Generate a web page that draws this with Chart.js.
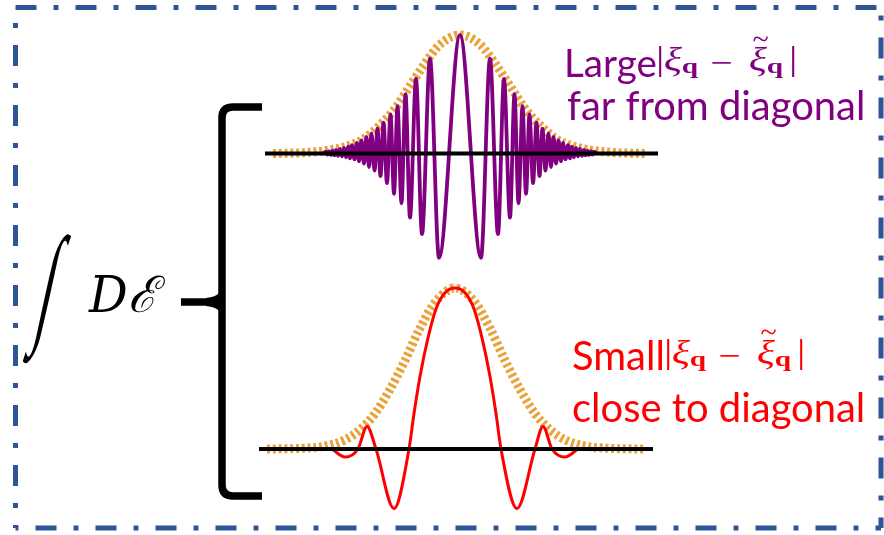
<!DOCTYPE html>
<html>
<head>
<meta charset="utf-8">
<script src="https://cdn.jsdelivr.net/npm/chart.js@4.4.1/dist/chart.umd.min.js"></script>
<style>
  html,body{margin:0;padding:0;background:#fff;}
  #wrap{width:884px;height:535px;position:relative;}
</style>
</head>
<body>
<div id="wrap"><canvas id="c"></canvas></div>
<script>
// ---------- DATA ----------
// position q, in units measured from the top packet's centre
const topCentre = 0;
const botCentre = -5;

// top panel: Gaussian envelope (normalised amplitude)
const topEnvQ = [-187,-150,-130,-110,-95,-80,-65,-50,-35,-20,0,20,35,50,65,80,95,110,130,150,187];
const topEnvA = [0,0.01,0.03,0.07,0.13,0.24,0.38,0.57,0.76,0.92,1,0.92,0.76,0.57,0.38,0.24,0.13,0.07,0.03,0.01,0];

// top panel: oscillation extrema, distance from centre and amplitude (one side, mirrored)
const topWaveD = [0,21,30,38,44,50,54.5,58.5,62.5,66,69.5,73,76.5,79.5,82.5,85.5,88.5,91,93.5,96,98.5,101,103,105.5,108,110,112,114,116,118,120,122,124,125.5,127.5,129,131,132.5,134,137];
const topWaveA = [1,-0.88,0.8,-0.68,0.63,-0.54,0.5,-0.42,0.4,-0.34,0.33,-0.25,0.26,-0.19,0.21,-0.145,0.17,-0.115,0.14,-0.085,0.11,-0.065,0.09,-0.05,0.07,-0.04,0.058,-0.032,0.048,-0.025,0.038,-0.02,0.03,-0.016,0.025,-0.013,0.02,-0.01,0.016,0];

// bottom panel: Gaussian envelope
const botEnvQ = [-188,-150,-130,-110,-95,-80,-65,-50,-35,-20,0,20,35,50,65,80,95,110,130,150,188];
const botEnvA = [0,0.005,0.018,0.057,0.12,0.22,0.37,0.55,0.75,0.91,1,0.91,0.75,0.55,0.37,0.22,0.12,0.057,0.018,0.005,0];

// bottom panel: slow oscillation
const botWaveQ = [-123,-110,-97,-88,-79,-61,-46,-41,-35,-27,-19,-10,0,10,19,27,35,41,46,62,80,88,97,110,123];
const botWaveA = [0,-0.05,0,0.14,0,-0.37,0,0.22,0.45,0.69,0.87,0.97,1,0.97,0.87,0.69,0.45,0.22,0,-0.37,0,0.14,0,-0.05,0];

// baselines (q extent)
const topAxisQ = [-195,198];
const botAxisQ = [-201,193];

// labels
const topLabel = ["Large", "far from diagonal"];
const botLabel = ["Small", "close to diagonal"];

// ---------- build datasets ----------
function pts(qs, as, c){ return qs.map((q,i)=>({x:q+c, y:as[i]})); }
function mirror(ds, as){
  const q=[], a=[];
  for(let i=ds.length-1;i>0;i--){ q.push(-ds[i]); a.push(as[i]); }
  for(let i=0;i<ds.length;i++){ q.push(ds[i]); a.push(as[i]); }
  return [q,a];
}
const [twQ, twA] = mirror(topWaveD, topWaveA);

const ORANGE = '#E9A33B';
const PURPLE = '#800080';
const RED = '#FF0000';

const frameAndText = {
  id:'frameAndText',
  afterDraw(chart){
    const ctx = chart.ctx;
    ctx.save();
    // dash-dot frame
    ctx.strokeStyle = '#2F5597';
    ctx.lineWidth = 5;
    ctx.setLineDash([21,17,5,17]);
    const L=15.5,T=7.5,R=881,B=528;
    const seg=(x0,y0,x1,y1,off)=>{ctx.lineDashOffset=off;ctx.beginPath();ctx.moveTo(x0,y0);ctx.lineTo(x1,y1);ctx.stroke();};
    seg(L,T,R,T,0);
    seg(L,T,L,B,22.5);
    seg(L,B,R,B,-20);
    seg(R,T,R,B,30);
    ctx.setLineDash([]);

    // brace
    ctx.strokeStyle='#000'; ctx.fillStyle='#000';
    ctx.lineWidth=7.5; ctx.lineCap='butt';
    ctx.beginPath();
    ctx.moveTo(262,107); ctx.lineTo(233,107);
    ctx.quadraticCurveTo(222,107,222,118);
    ctx.lineTo(222,485);
    ctx.quadraticCurveTo(222,496,233,496);
    ctx.lineTo(262,496);
    ctx.stroke();
    ctx.beginPath(); ctx.moveTo(181,302); ctx.lineTo(214,302); ctx.stroke();
    ctx.beginPath();
    ctx.moveTo(206,298); ctx.quadraticCurveTo(216,297,219,293);
    ctx.lineTo(219,311); ctx.quadraticCurveTo(216,307,206,306);
    ctx.closePath(); ctx.fill();

    // text helpers
    const box=(text,font,x0,y0,x1,y1,color,skew)=>{
      ctx.font=font; ctx.fillStyle=color; ctx.textBaseline='alphabetic'; ctx.textAlign='left';
      const m=ctx.measureText(text);
      const w=m.actualBoundingBoxLeft+m.actualBoundingBoxRight;
      const h=m.actualBoundingBoxAscent+m.actualBoundingBoxDescent;
      const k=skew||0;
      ctx.save(); ctx.translate(x0,y1); ctx.transform(1,0,-k,1,0,0);
      ctx.scale((x1-x0-k*(y1-y0))/w,(y1-y0)/h);
      ctx.fillText(text,m.actualBoundingBoxLeft,-m.actualBoundingBoxDescent);
      ctx.restore();
    };
    const line=(text,family,x0,x1,base,color)=>{
      ctx.font='100px '+family;
      const m=ctx.measureText(text);
      const w=m.actualBoundingBoxLeft+m.actualBoundingBoxRight;
      const size=100*(x1-x0)/w;
      ctx.font=size+'px '+family; ctx.fillStyle=color; ctx.textBaseline='alphabetic'; ctx.textAlign='left';
      const m2=ctx.measureText(text);
      ctx.fillText(text,x0+m2.actualBoundingBoxLeft,base);
    };
    // integral
    box('\u222B','100px "Liberation Serif"',22,233,72,363,'#000',0.22);
    box('D\u2130','italic 100px "DejaVu Serif"',88,275,165,312,'#000');

    // labels
    const math=(dx,dy,color)=>{
      const S='"Liberation Serif"';
      box('|','100px '+S,659+dx,47+dy,661.5+dx,77+dy,color);
      box('\u03BE','italic 100px '+S,665+dx,47+dy,682+dx,77+dy,color);
      box('q','bold 100px '+S,683+dx,63+dy,698+dx,78+dy,color);
      box('\u2212','100px '+S,712+dx,62+dy,731+dx,64+dy,color);
      box('\u03BE','italic 100px '+S,750+dx,47+dy,767+dx,77+dy,color);
      box('~','100px '+S,753+dx,37+dy,768+dx,42+dy,color);
      box('q','bold 100px '+S,768+dx,63+dy,783+dx,78+dy,color);
      box('|','100px '+S,792+dx,47+dy,794.5+dx,77+dy,color);
    };
    line(topLabel[0],'Lato',567,655,76.5,PURPLE);
    line(topLabel[1],'Lato',567,862,120,PURPLE);
    math(0,0,PURPLE);
    line(botLabel[0],'Lato',573,662,370,RED);
    line(botLabel[1],'Lato',573,862,422,RED);
    math(8,293,RED);
    ctx.restore();
  }
};

function build(){
  new Chart(document.getElementById('c'),{
    type:'line',
    data:{datasets:[
      {data:pts(topAxisQ,[0,0],0), yAxisID:'yTop', borderColor:'#000', borderWidth:4, tension:0, order:0},
      {data:pts(twQ,twA,topCentre), yAxisID:'yTop', borderColor:PURPLE, borderWidth:3.8, cubicInterpolationMode:'monotone', order:1},
      {data:pts(topEnvQ,topEnvA,topCentre), yAxisID:'yTop', borderColor:ORANGE, borderWidth:9, borderDash:[3,2.8], cubicInterpolationMode:'monotone', order:2},
      {data:pts(botAxisQ,[0,0],0), yAxisID:'yBot', borderColor:'#000', borderWidth:4, tension:0, order:0},
      {data:pts(botWaveQ,botWaveA,botCentre), yAxisID:'yBot', borderColor:RED, borderWidth:3, cubicInterpolationMode:'monotone', order:1},
      {data:pts(botEnvQ,botEnvA,botCentre), yAxisID:'yBot', borderColor:ORANGE, borderWidth:9, borderDash:[3,2.8], cubicInterpolationMode:'monotone', order:2}
    ]},
    options:{
      responsive:true, maintainAspectRatio:false, animation:false,
      layout:{padding:0},
      elements:{point:{radius:0,hoverRadius:0}, line:{fill:false, borderCapStyle:'butt'}},
      plugins:{legend:{display:false}, tooltip:{enabled:false}},
      events:[],
      scales:{
        x:{type:'linear', min:-460, max:424, display:false},
        yTop:{type:'linear', min:-3.2194, max:1.2954, display:false},
        yBot:{type:'linear', min:-0.5342, max:2.7888, display:false}
      }
    },
    plugins:[frameAndText]
  });
}
Promise.all([
  document.fonts.load('40px Lato'),
  document.fonts.load('40px "DejaVu Serif"'),
  document.fonts.load('italic 40px "DejaVu Serif"'),
  document.fonts.load('40px "Liberation Serif"'),
  document.fonts.load('italic 40px "Liberation Serif"'),
  document.fonts.load('bold 40px "Liberation Serif"')
]).then(build, build);
</script>
</body>
</html>
